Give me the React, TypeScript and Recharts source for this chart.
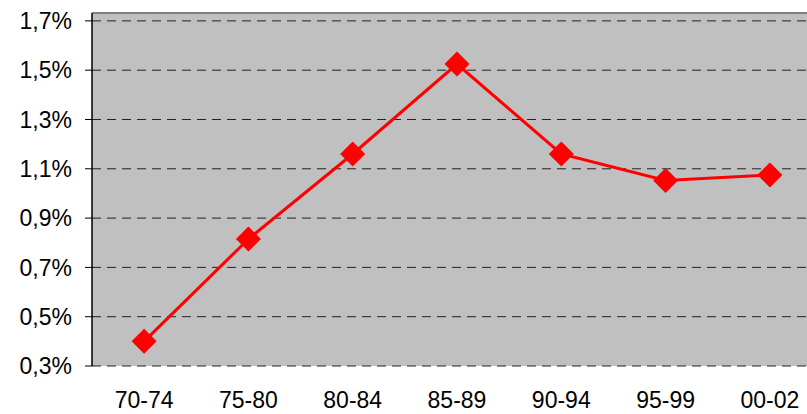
import {
  CartesianGrid,
  Line,
  LineChart,
  ReferenceLine,
  XAxis,
  YAxis,
} from "recharts";

const PERIODS = ["70-74", "75-80", "80-84", "85-89", "90-94", "95-99", "00-02"];
const RATES = [0.4, 0.815, 1.16, 1.525, 1.16, 1.053, 1.075];
const Y_TICKS = [0.3, 0.5, 0.7, 0.9, 1.1, 1.3, 1.5, 1.7];
const BOUNDS = [0, 1, 2, 3, 4, 5, 6, 7];

const Y_MAX = 1.732;
const FONT = { fontSize: 23, fill: "#000", fontFamily: "'Liberation Sans', Arial, sans-serif" };

const data = PERIODS.map((p, i) => ({ period: p, x: i + 0.5, rate: RATES[i] }));

function Diamond(props: any) {
  const { cx, cy } = props;
  if (cx == null || cy == null) return <g />;
  const r = 12.5;
  return (
    <polygon
      points={`${cx},${cy - r} ${cx + r},${cy} ${cx},${cy + r} ${cx - r},${cy}`}
      fill="#ff0000"
    />
  );
}

export default function App() {
  return (
    <div
      style={{
        position: "fixed",
        left: 0,
        top: 0,
        width: 807,
        height: 414,
        overflow: "hidden",
        background: "#fff",
      }}
    >
      <LineChart
        width={822}
        height={414}
        data={data}
        margin={{ top: 13, right: 0, left: 0, bottom: 0 }}
      >
        <CartesianGrid
          horizontal
          vertical={false}
          fill="#c0c0c0"
          stroke="#222"
          strokeDasharray="9 6"
        />
        <XAxis
          xAxisId="grid"
          type="number"
          domain={[0, 7]}
          ticks={BOUNDS}
          height={0}
          tickSize={7}
          tickFormatter={() => ""}
          stroke="#000"
          axisLine={{ stroke: "#000", strokeWidth: 1.5 }}
          tickLine={{ stroke: "#000" }}
        />
        <XAxis
          xAxisId="cat"
          type="number"
          dataKey="x"
          domain={[0, 7]}
          ticks={data.map((d) => d.x)}
          tickFormatter={(v: number) => PERIODS[Math.floor(v)]}
          height={48}
          axisLine={false}
          tickLine={false}
          tickSize={0}
          tickMargin={26}
          tick={FONT}
          interval={0}
        />
        <YAxis
          type="number"
          domain={[0.3, Y_MAX]}
          ticks={Y_TICKS}
          width={92}
          tickSize={7}
          tickMargin={13}
          tick={FONT}
          axisLine={{ stroke: "#000", strokeWidth: 1.5 }}
          tickLine={{ stroke: "#000" }}
          tickFormatter={(v: number) => v.toFixed(1).replace(".", ",") + "%"}
          interval={0}
          allowDataOverflow
        />
        <ReferenceLine
          xAxisId="cat"
          y={Y_MAX}
          stroke="#808080"
          strokeWidth={2}
        />
        <Line
          xAxisId="cat"
          type="linear"
          dataKey="rate"
          stroke="#ff0000"
          strokeWidth={3}
          dot={<Diamond />}
          activeDot={false}
          isAnimationActive={false}
        />
      </LineChart>
    </div>
  );
}
